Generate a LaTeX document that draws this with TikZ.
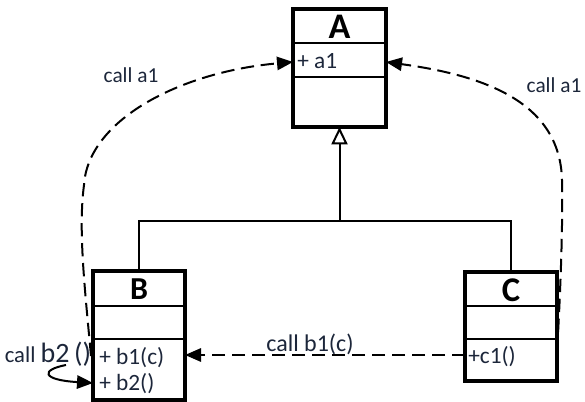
\documentclass[tikz,border=0pt]{standalone}
\usepackage{fontspec}
\setmainfont{Carlito}
\usetikzlibrary{arrows.meta}
\definecolor{txt}{RGB}{28,38,58}
\tikzset{
  umlbox/.style={draw, line width=2.6pt, outer sep=0pt, inner sep=0pt},
  sep/.style={line width=1.1pt},
  title/.style={font=\bfseries, inner sep=0pt},
  member/.style={font=\fontsize{17.5}{20}\selectfont, text=txt, anchor=west, inner sep=0pt},
  lbl/.style={font=\fontsize{16}{18}\selectfont, text=txt, inner sep=0pt},
  inh/.style={line width=1.5pt},
  call/.style={line width=1.5pt, dash pattern=on 10pt off 5pt, -{Triangle[length=12pt,width=10pt]}},
}
\begin{document}
\begin{tikzpicture}[x=0.75pt,y=-0.75pt]
\useasboundingbox (0,0) rectangle (585,402);
% boxes
\node[umlbox, minimum width=93*0.75pt, minimum height=118*0.75pt] (A) at (339.5,68) {};
\node[umlbox, minimum width=92*0.75pt, minimum height=129*0.75pt] (B) at (139,335.5) {};
\node[umlbox, minimum width=92*0.75pt, minimum height=109*0.75pt] (C) at (511,326.5) {};
% separators
\draw[sep] (A.west |- 0,43) -- (A.east |- 0,43);
\draw[sep] (A.west |- 0,77) -- (A.east |- 0,77);
\draw[sep] (B.west |- 0,306) -- (B.east |- 0,306);
\draw[sep] (B.west |- 0,339) -- (B.east |- 0,339);
\draw[sep] (C.west |- 0,306) -- (C.east |- 0,306);
\draw[sep] (C.west |- 0,339) -- (C.east |- 0,339);
% titles
\node[title, font=\fontsize{27}{30}\selectfont\bfseries] (tA) at (339.5,27) {A};
\node[title, font=\fontsize{24}{27}\selectfont\bfseries] (tB) at (139,289) {B};
\node[title, font=\fontsize{26}{29}\selectfont\bfseries] (tC) at (511,290) {C};
% members
\node[member] (a1) at (297,61) {+ a1};
\node[member] (b1) at (99,358) {+ b1(c)};
\node[member] (b2) at (99,384) {+ b2()};
\node[member] (c1) at (468,357) {+c1()};
% inheritance
\coordinate (J) at (339.5,221);
\draw[inh] (B.north) |- (J) -| (C.north);
\draw[inh, -{Triangle[open,length=13pt,width=12pt]}] (J) -- (A.south);
% calls
\coordinate (cS) at (465,355);
\coordinate (bE) at (185,355);
\draw[call] (cS) -- (bE);
\node[lbl, font=\fontsize{18}{20}\selectfont] (lb1) at (310,344) {call b1(c)};

\coordinate (lS) at (91,356);
\coordinate (aW) at (293,62);
\draw[call] (lS) .. controls (85,290) and (78,230) .. (84,185) .. controls (88,120) and (180,72) .. (aW);
\node[lbl] (la1) at (131,75) {call a1};

\coordinate (rS) at (557,352);
\coordinate (aE) at (386,62);
\draw[call] (rS) .. controls (560,300) and (563,230) .. (562,180) .. controls (560,100) and (480,75) .. (aE);
\node[lbl] (ra1) at (554,85) {call a1};

% self call
\node[lbl, font=\fontsize{17}{19}\selectfont] (lb2) at (48,354) {call {\fontsize{21}{23}\selectfont b2\,()}};
\coordinate (sS) at (66,365);
\coordinate (sE) at (93,383);
\draw[line width=1.5pt, -{Triangle[length=12pt,width=10pt]}] (sS) .. controls (40,370) and (42,380) .. (sE);
\end{tikzpicture}
\end{document}
